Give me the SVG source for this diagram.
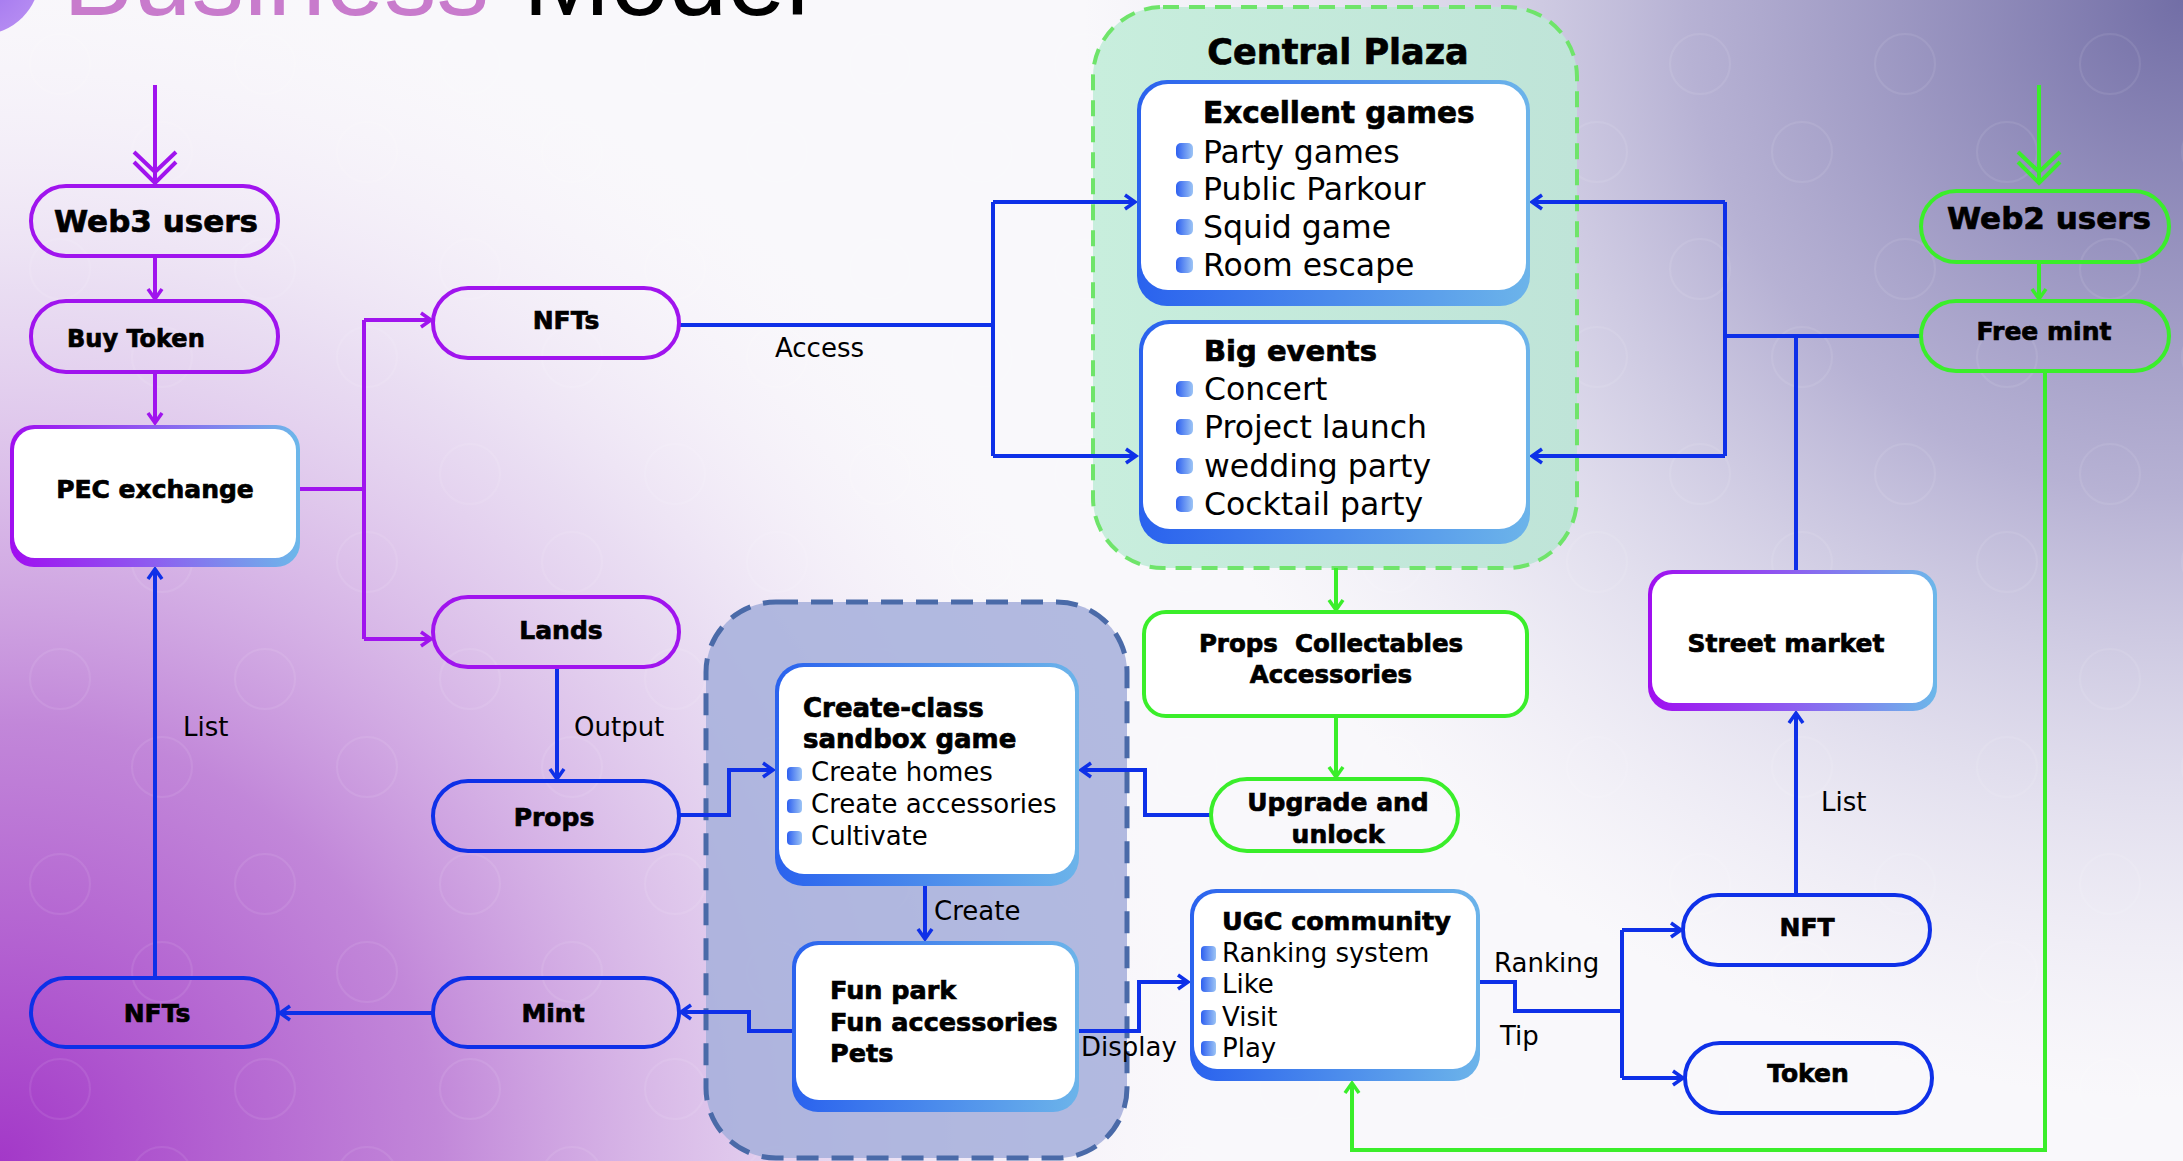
<svg xmlns="http://www.w3.org/2000/svg" width="2183" height="1161" viewBox="0 0 2183 1161">
  <defs>
    <radialGradient id="bgBL" gradientUnits="userSpaceOnUse" cx="0" cy="1161" r="1250">
      <stop offset="0" stop-color="#a338c8"/>
      <stop offset="0.35" stop-color="#b873d3" stop-opacity="0.85"/>
      <stop offset="0.7" stop-color="#dac3ea" stop-opacity="0.5"/>
      <stop offset="1" stop-color="#ffffff" stop-opacity="0"/>
    </radialGradient>
    <radialGradient id="bgTR" gradientUnits="userSpaceOnUse" cx="2183" cy="0" r="1100">
      <stop offset="0" stop-color="#726ea6"/>
      <stop offset="0.45" stop-color="#a6a0ca" stop-opacity="0.8"/>
      <stop offset="1" stop-color="#d8d2ea" stop-opacity="0"/>
    </radialGradient>
    <pattern id="globes" patternUnits="userSpaceOnUse" width="205" height="205">
      <g fill="none" stroke="#ffffff" stroke-opacity="0.08" stroke-width="2">
        <circle cx="60" cy="64" r="30"/>
        <circle cx="162" cy="152" r="30"/>
      </g>
    </pattern>
    <linearGradient id="edgeBlue" x1="0" y1="0" x2="1" y2="0">
      <stop offset="0" stop-color="#2a62ee"/>
      <stop offset="1" stop-color="#6cb4ea"/>
    </linearGradient>
    <linearGradient id="edgePurple" x1="0" y1="0" x2="1" y2="0">
      <stop offset="0" stop-color="#a00ef0"/>
      <stop offset="0.5" stop-color="#8d5ef0"/>
      <stop offset="1" stop-color="#6cb8ea"/>
    </linearGradient>
    <linearGradient id="bullet" x1="0" y1="0" x2="1" y2="0">
      <stop offset="0" stop-color="#2d5ff0"/>
      <stop offset="1" stop-color="#9cc4f5"/>
    </linearGradient>
    <linearGradient id="plazaFill" x1="0" y1="0" x2="1" y2="0">
      <stop offset="0" stop-color="#c8eedd"/>
      <stop offset="1" stop-color="#bfe4d8"/>
    </linearGradient>
    <radialGradient id="corner" cx="0.5" cy="0.5" r="0.5">
      <stop offset="0" stop-color="#9c70ee"/>
      <stop offset="1" stop-color="#b48af2"/>
    </radialGradient>
    <marker id="ahP" markerUnits="userSpaceOnUse" viewBox="-14 -10 18 20" markerWidth="18" markerHeight="20" refX="0" refY="0" orient="auto">
      <path d="M-10,-7 L0,0 L-10,7" fill="none" stroke="#a014ee" stroke-width="3.5"/>
    </marker>
    <marker id="ahB" markerUnits="userSpaceOnUse" viewBox="-14 -10 18 20" markerWidth="18" markerHeight="20" refX="0" refY="0" orient="auto">
      <path d="M-10,-7 L0,0 L-10,7" fill="none" stroke="#0e30e8" stroke-width="3.5"/>
    </marker>
    <marker id="ahG" markerUnits="userSpaceOnUse" viewBox="-14 -10 18 20" markerWidth="18" markerHeight="20" refX="0" refY="0" orient="auto">
      <path d="M-10,-7 L0,0 L-10,7" fill="none" stroke="#3aee2a" stroke-width="3.5"/>
    </marker>
  </defs>
  <style>
    .pill { fill: none; stroke-width: 4; }
    .sp { stroke: #a014ee; }
    .sb { stroke: #0e30e8; }
    .sg { stroke: #3aee2a; }
    .conn path { fill: none; stroke-width: 4; }
    .cp { stroke: #a014ee; }
    .cb { stroke: #0e30e8; }
    .cg { stroke: #3aee2a; }
    .ap { marker-end: url(#ahP); }
    .ab { marker-end: url(#ahB); }
    .ag { marker-end: url(#ahG); }
    .lb { font-family: "DejaVu Sans", "Liberation Sans", sans-serif; font-weight: bold; fill: #000; stroke: #000; stroke-width: 0.7px; font-size: 25px; }
    .mid { text-anchor: middle; }
    .lr { font-family: "DejaVu Sans", "Liberation Sans", sans-serif; font-weight: normal; fill: #000; font-size: 26px; }
    .item { font-size: 31.5px; }
    .small { font-size: 26px; }
    .dot { fill: url(#bullet); }
    .white { fill: #ffffff; }
  </style>

  <!-- backdrop -->
  <rect x="0" y="0" width="2183" height="1161" fill="#f9f8fb"/>
  <rect x="0" y="0" width="2183" height="1161" fill="url(#bgBL)"/>
  <rect x="0" y="0" width="2183" height="1161" fill="url(#bgTR)"/>
  <rect x="0" y="0" width="2183" height="1161" fill="url(#globes)"/>
  <circle cx="-20" cy="-25" r="60" fill="url(#corner)"/>

  <!-- heading -->
  <g id="title">
    <text x="63" y="15" font-family="Liberation Sans, Arial, sans-serif" font-size="105" fill="#c87bcc">Business</text>
    <text x="523" y="15" font-family="Liberation Sans, Arial, sans-serif" font-size="105" fill="#000">Model</text>
  </g>

  <!-- containers -->
  <g id="central-plaza">
    <rect x="1093" y="7" width="484" height="561" rx="70" fill="url(#plazaFill)" stroke="#6fe46a" stroke-width="4" stroke-dasharray="16 10"/>
    <text class="lb mid" x="1338" y="64" style="font-size:35px">Central Plaza</text>
  </g>
  <g id="sandbox-zone">
    <rect x="706" y="602" width="421" height="556" rx="70" fill="#a7b0dc" fill-opacity="0.88" stroke="#4a6aa8" stroke-width="5" stroke-dasharray="22 13"/>
  </g>

  <!-- connectors -->
  <g id="connectors" class="conn">
    <!-- purple -->
    <path class="cp" d="M155,85 V180"/>
    <path class="cp" d="M134,152 L155,172 L176,152 M134,162 L155,183 L176,162"/>
    <path class="cp ap" d="M155,256 V299"/>
    <path class="cp ap" d="M155,372 V423"/>
    <path class="cp" d="M300,489 H364 M364,320 V639"/>
    <path class="cp ap" d="M364,320 H431"/>
    <path class="cp ap" d="M364,639 H431"/>
    <!-- blue -->
    <path class="cb" d="M679,325 H993 M993,202 V456"/>
    <path class="cb ab" d="M993,202 H1135"/>
    <path class="cb ab" d="M993,456 H1136"/>
    <path class="cb" d="M1921,336 H1725 M1725,202 V456"/>
    <path class="cb ab" d="M1725,202 H1532"/>
    <path class="cb ab" d="M1725,456 H1532"/>
    <path class="cb" d="M1796,336 V570"/>
    <path class="cb ab" d="M557,667 V779"/>
    <path class="cb ab" d="M679,815 H729 V770 H773"/>
    <path class="cb ab" d="M1211,815 H1145 V770 H1081"/>
    <path class="cb ab" d="M925,886 V939"/>
    <path class="cb ab" d="M792,1031 H749 V1012 H681"/>
    <path class="cb ab" d="M433,1013 H280"/>
    <path class="cb ab" d="M155,978 V569"/>
    <path class="cb ab" d="M1079,1031 H1139 V982 H1188"/>
    <path class="cb" d="M1480,982 H1515 V1011 H1622 M1622,930 V1078"/>
    <path class="cb ab" d="M1622,930 H1681"/>
    <path class="cb ab" d="M1622,1078 H1683"/>
    <path class="cb ab" d="M1796,895 V713"/>
    <!-- green -->
    <path class="cg" d="M2039,85 V180"/>
    <path class="cg" d="M2018,152 L2039,172 L2060,152 M2018,162 L2039,183 L2060,162"/>
    <path class="cg ag" d="M2039,262 V299"/>
    <path class="cg ag" d="M1336,568 V610"/>
    <path class="cg ag" d="M1336,716 V777"/>
    <path class="cg ag" d="M2045,371 V1150 H1352 V1083"/>
    <!-- edge labels -->
    <text class="lr" x="775" y="357">Access</text>
    <text class="lr" x="574" y="736">Output</text>
    <text class="lr" x="183" y="736">List</text>
    <text class="lr" x="934" y="920">Create</text>
    <text class="lr" x="1081" y="1056">Display</text>
    <text class="lr" x="1494" y="972">Ranking</text>
    <text class="lr" x="1500" y="1045">Tip</text>
    <text class="lr" x="1821" y="811">List</text>
  </g>

  <!-- left column -->
  <g id="web3-users">
    <rect class="pill sp" x="31" y="186" width="247" height="70" rx="35"/>
    <text class="lb mid" x="156" y="232" style="font-size:31px">Web3 users</text>
  </g>
  <g id="buy-token">
    <rect class="pill sp" x="31" y="301" width="247" height="71" rx="35"/>
    <text class="lb" x="67" y="347" style="font-size:24px">Buy Token</text>
  </g>
  <g id="pec-exchange">
    <rect x="10" y="425" width="290" height="142" rx="24" fill="url(#edgePurple)"/>
    <rect class="white" x="14" y="429" width="282" height="129" rx="21"/>
    <text class="lb mid" x="155" y="498">PEC exchange</text>
  </g>
  <g id="nfts-top">
    <rect class="pill sp" x="433" y="288" width="246" height="70" rx="35"/>
    <text class="lb mid" x="566" y="329">NFTs</text>
  </g>
  <g id="lands">
    <rect class="pill sp" x="433" y="597" width="246" height="70" rx="35"/>
    <text class="lb mid" x="561" y="639">Lands</text>
  </g>
  <g id="props">
    <rect class="pill sb" x="433" y="781" width="246" height="70" rx="35"/>
    <text class="lb mid" x="554" y="826">Props</text>
  </g>
  <g id="nfts-bottom">
    <rect class="pill sb" x="31" y="978" width="247" height="69" rx="34.5"/>
    <text class="lb mid" x="157" y="1022">NFTs</text>
  </g>
  <g id="mint">
    <rect class="pill sb" x="433" y="978" width="246" height="69" rx="34.5"/>
    <text class="lb mid" x="553" y="1022">Mint</text>
  </g>

  <!-- central plaza contents -->
  <g id="excellent-games">
    <rect x="1137" y="80" width="393" height="226" rx="30" fill="url(#edgeBlue)"/>
    <rect class="white" x="1141" y="84" width="385" height="206" rx="27"/>
    <text class="lb" x="1203" y="123" style="font-size:29.5px">Excellent games</text>
    <rect class="dot" x="1176" y="143" width="17" height="16" rx="5"/>
    <rect class="dot" x="1176" y="181" width="17" height="16" rx="5"/>
    <rect class="dot" x="1176" y="219" width="17" height="16" rx="5"/>
    <rect class="dot" x="1176" y="257" width="17" height="16" rx="5"/>
    <text class="lr item" x="1203" y="163">Party games</text>
    <text class="lr item" x="1203" y="200">Public Parkour</text>
    <text class="lr item" x="1203" y="238">Squid game</text>
    <text class="lr item" x="1203" y="276">Room escape</text>
  </g>
  <g id="big-events">
    <rect x="1139" y="320" width="391" height="224" rx="30" fill="url(#edgeBlue)"/>
    <rect class="white" x="1143" y="324" width="383" height="205" rx="27"/>
    <text class="lb" x="1204" y="361" style="font-size:29px">Big events</text>
    <rect class="dot" x="1176" y="381" width="17" height="16" rx="5"/>
    <rect class="dot" x="1176" y="419" width="17" height="16" rx="5"/>
    <rect class="dot" x="1176" y="458" width="17" height="16" rx="5"/>
    <rect class="dot" x="1176" y="496" width="17" height="16" rx="5"/>
    <text class="lr item" x="1204" y="400">Concert</text>
    <text class="lr item" x="1204" y="438">Project launch</text>
    <text class="lr item" x="1204" y="477">wedding party</text>
    <text class="lr item" x="1204" y="515">Cocktail party</text>
  </g>

  <!-- sandbox contents -->
  <g id="create-class">
    <rect x="775" y="663" width="304" height="223" rx="28" fill="url(#edgeBlue)"/>
    <rect class="white" x="779" y="667" width="296" height="207" rx="25"/>
    <text class="lb" x="803" y="717" style="font-size:26px">Create-class</text>
    <text class="lb" x="803" y="748" style="font-size:26px">sandbox game</text>
    <rect class="dot" x="787" y="767" width="15" height="14" rx="4"/>
    <rect class="dot" x="787" y="799" width="15" height="14" rx="4"/>
    <rect class="dot" x="787" y="831" width="15" height="14" rx="4"/>
    <text class="lr small" x="811" y="781">Create homes</text>
    <text class="lr small" x="811" y="813">Create accessories</text>
    <text class="lr small" x="811" y="845">Cultivate</text>
  </g>
  <g id="fun-park">
    <rect x="792" y="941" width="287" height="171" rx="26" fill="url(#edgeBlue)"/>
    <rect class="white" x="796" y="945" width="279" height="155" rx="23"/>
    <text class="lb" x="830" y="999" style="font-size:25.5px">Fun park</text>
    <text class="lb" x="830" y="1031" style="font-size:25.5px">Fun accessories</text>
    <text class="lb" x="830" y="1062" style="font-size:25.5px">Pets</text>
  </g>

  <!-- middle column -->
  <g id="props-collectables">
    <rect x="1144" y="612" width="383" height="104" rx="22" fill="#ffffff" stroke="#3aee2a" stroke-width="4"/>
    <text class="lb mid" x="1331" y="652" style="font-size:24.5px" xml:space="preserve">Props  Collectables</text>
    <text class="lb mid" x="1331" y="683" style="font-size:24.5px">Accessories</text>
  </g>
  <g id="upgrade-unlock">
    <rect class="pill sg" x="1211" y="779" width="247" height="72" rx="36"/>
    <text class="lb mid" x="1338" y="811">Upgrade and</text>
    <text class="lb mid" x="1338" y="843">unlock</text>
  </g>
  <g id="ugc-community">
    <rect x="1190" y="889" width="290" height="192" rx="26" fill="url(#edgeBlue)"/>
    <rect class="white" x="1194" y="893" width="282" height="176" rx="23"/>
    <text class="lb" x="1222" y="930" style="font-size:25.5px">UGC community</text>
    <rect class="dot" x="1201" y="946" width="15" height="15" rx="4"/>
    <rect class="dot" x="1201" y="977" width="15" height="15" rx="4"/>
    <rect class="dot" x="1201" y="1010" width="15" height="15" rx="4"/>
    <rect class="dot" x="1201" y="1041" width="15" height="15" rx="4"/>
    <text class="lr small" x="1222" y="962">Ranking system</text>
    <text class="lr small" x="1222" y="993">Like</text>
    <text class="lr small" x="1222" y="1026">Visit</text>
    <text class="lr small" x="1222" y="1057">Play</text>
  </g>

  <!-- right column -->
  <g id="web2-users">
    <rect class="pill sg" x="1921" y="191" width="248" height="71" rx="35.5"/>
    <text class="lb mid" x="2049" y="229" style="font-size:31px">Web2 users</text>
  </g>
  <g id="free-mint">
    <rect class="pill sg" x="1921" y="301" width="248" height="70" rx="35"/>
    <text class="lb mid" x="2044" y="340">Free mint</text>
  </g>
  <g id="street-market">
    <rect x="1648" y="570" width="289" height="141" rx="24" fill="url(#edgePurple)"/>
    <rect class="white" x="1652" y="574" width="281" height="129" rx="21"/>
    <text class="lb mid" x="1786" y="652">Street market</text>
  </g>
  <g id="nft">
    <rect class="pill sb" x="1683" y="895" width="247" height="70" rx="35"/>
    <text class="lb mid" x="1807" y="936">NFT</text>
  </g>
  <g id="token">
    <rect class="pill sb" x="1685" y="1043" width="247" height="70" rx="35"/>
    <text class="lb mid" x="1808" y="1082">Token</text>
  </g>
</svg>
